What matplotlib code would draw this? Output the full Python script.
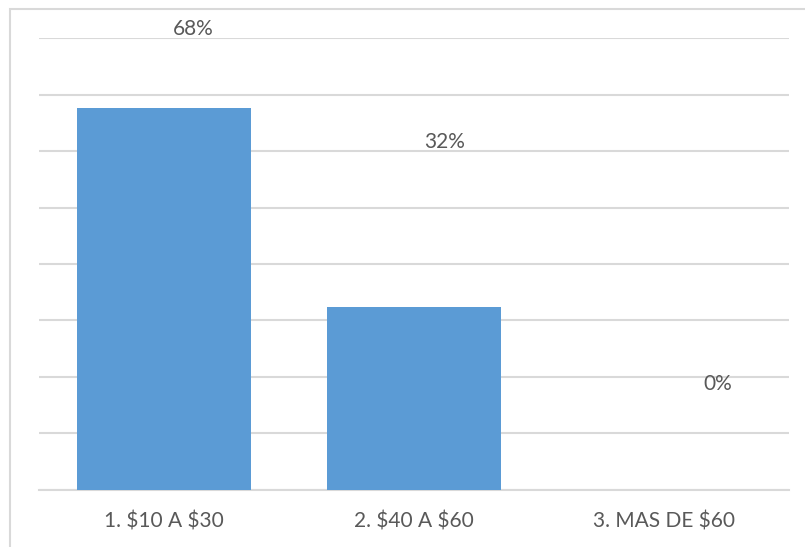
import matplotlib.pyplot as plt
from matplotlib.patches import Rectangle

categories = ["1. $10 A $30", "2. $40 A $60", "3. MAS DE $60"]
values = [0.676, 0.324, 0.0]
label_texts = ["68%", "32%", "0%"]
# where the data labels sit in the original (they float, not on the bars)
label_heights = [0.816, 0.616, 0.187]
label_shifts = [0.116, 0.122, 0.214]

bar_color = "#5b9bd5"
grid_color = "#d9d9d9"
text_color = "#595959"


def main():
    plt.rcParams["font.family"] = ["Lato", "DejaVu Sans"]
    plt.rcParams["text.parse_math"] = False
    fig = plt.figure(figsize=(8.05, 5.47), dpi=100)
    ax = fig.add_axes([39 / 805, 1 - 489.5 / 547, 750 / 805, 451.2 / 547])

    x = list(range(len(categories)))
    ax.bar(x, values, width=0.695, color=bar_color, zorder=3)

    ax.set_xlim(-0.5, 2.5)
    ax.set_ylim(0, 0.8)
    ax.set_yticks([i / 10 for i in range(9)])
    ax.yaxis.grid(True, color=grid_color, linewidth=1.5, zorder=0)
    ax.set_yticklabels([])
    ax.tick_params(length=0)
    ax.set_xticks(x)
    ax.set_xticklabels(categories, fontsize=15, color=text_color)
    ax.tick_params(axis="x", pad=16)
    for side in ["top", "right", "left"]:
        ax.spines[side].set_visible(False)
    ax.spines["bottom"].set_color(grid_color)
    ax.spines["bottom"].set_linewidth(1.5)

    for xi, h, dx, txt in zip(x, label_heights, label_shifts, label_texts):
        ax.text(xi + dx, h, txt, ha="center", va="center", fontsize=15,
                color=text_color, clip_on=False)

    # chart area border
    fig.patches.append(Rectangle((10 / 805, -0.05), 1.0, 1 - 8.5 / 547 + 0.05,
                                 transform=fig.transFigure, fill=False,
                                 edgecolor=grid_color, linewidth=1.5))

    fig.savefig("out.png", dpi=100)


if __name__ == "__main__":
    main()
